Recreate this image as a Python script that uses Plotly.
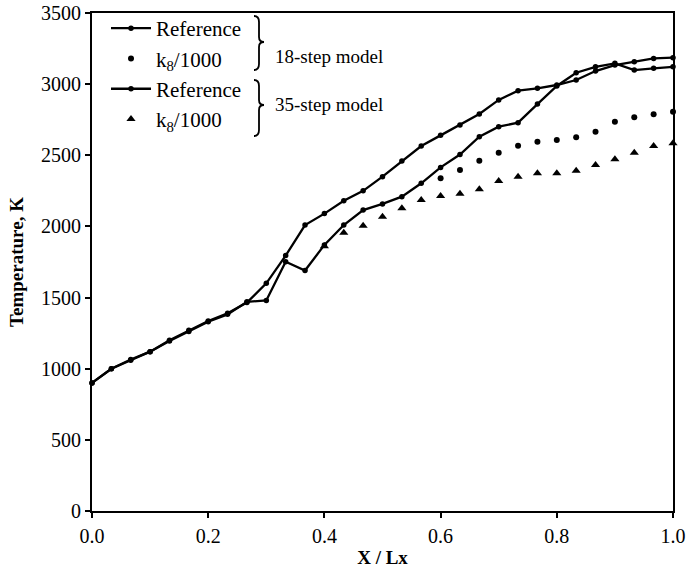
import plotly.graph_objects as go

# x positions: X/Lx = i/30
x_all = [i / 30 for i in range(31)]

# Reference curve A (ends high)
ref_a = [900, 1000, 1065, 1120, 1200, 1270, 1335, 1390, 1465, 1600,
         1795, 2010, 2090, 2180, 2250, 2350, 2460, 2565, 2640, 2713,
         2790, 2889, 2954, 2971, 2994, 3029, 3092, 3134, 3158, 3181, 3186]

# Reference curve B (lower in the middle)
ref_b = [900, 1000, 1060, 1120, 1195, 1262, 1330, 1382, 1470, 1480,
         1752, 1690, 1870, 2010, 2115, 2158, 2209, 2303, 2415, 2505,
         2631, 2701, 2729, 2860, 2987, 3080, 3122, 3146, 3099, 3111, 3122]

# k8/1000, 18-step model (dots), from X/Lx = 0.6
x_k8_18 = [i / 30 for i in range(18, 31)]
k8_18 = [2338, 2397, 2462, 2518, 2567, 2596, 2607, 2626, 2666, 2736, 2767, 2788, 2806]

# k8/1000, 35-step model (triangles), from X/Lx = 0.4
x_k8_35 = [i / 30 for i in range(12, 31)]
k8_35 = [1860, 1955, 2005, 2068, 2127, 2186, 2214, 2230, 2262, 2319,
         2350, 2373, 2373, 2392, 2432, 2472, 2518, 2565, 2584]

x_ticks = [0.0, 0.2, 0.4, 0.6, 0.8, 1.0]
x_tick_text = ["0.0", "0.2", "0.4", "0.6", "0.8", "1.0"]
y_ticks = [0, 500, 1000, 1500, 2000, 2500, 3000, 3500]

W, H = 692, 569
ML, MR, MT, MB = 92, 19, 13, 58
FONT = "Liberation Serif"

fig = go.Figure()
fig.add_trace(go.Scatter(x=x_all, y=ref_b, mode="lines+markers", name="Reference",
                         line=dict(color="black", width=2.3),
                         marker=dict(color="black", size=5.5), cliponaxis=False))
fig.add_trace(go.Scatter(x=x_k8_18, y=k8_18, mode="markers", name="k<sub>8</sub>/1000",
                         marker=dict(color="black", size=6, symbol="circle"), cliponaxis=False))
fig.add_trace(go.Scatter(x=x_all, y=ref_a, mode="lines+markers", name="Reference",
                         line=dict(color="black", width=2.3),
                         marker=dict(color="black", size=5.5), cliponaxis=False))
fig.add_trace(go.Scatter(x=x_k8_35, y=k8_35, mode="markers", name="k<sub>8</sub>/1000",
                         marker=dict(color="black", size=8, symbol="triangle-up"), cliponaxis=False))

pw = W - ML - MR
ph = H - MT - MB


def px(x):
    return (x - ML) / pw


def py(y):
    return 1 - (y - MT) / ph


def brace(x0, ytop, ybot, ytip):
    xm = x0 + 5
    pts = [
        f"M {px(x0)},{py(ytop)}",
        f"Q {px(xm)},{py(ytop)} {px(xm)},{py(ytop + 6)}",
        f"L {px(xm)},{py(ytip - 5)}",
        f"Q {px(xm)},{py(ytip)} {px(xm + 5)},{py(ytip)}",
        f"Q {px(xm)},{py(ytip)} {px(xm)},{py(ytip + 5)}",
        f"L {px(xm)},{py(ybot - 6)}",
        f"Q {px(xm)},{py(ybot)} {px(x0)},{py(ybot)}",
    ]
    return " ".join(pts)


shapes = [
    dict(type="path", xref="paper", yref="paper", path=brace(254, 16, 70, 42),
         line=dict(color="black", width=1.8)),
    dict(type="path", xref="paper", yref="paper", path=brace(254, 80, 136, 105),
         line=dict(color="black", width=1.8)),
]

annotations = [
    dict(x=px(273), y=py(57), xref="paper", yref="paper", text="18-step model",
         showarrow=False, xanchor="left", yanchor="middle",
         font=dict(family=FONT, size=19, color="black")),
    dict(x=px(273), y=py(104), xref="paper", yref="paper", text="35-step model",
         showarrow=False, xanchor="left", yanchor="middle",
         font=dict(family=FONT, size=19, color="black")),
]

fig.update_layout(
    width=W, height=H,
    margin=dict(l=ML, r=MR, t=MT, b=MB, autoexpand=False),
    paper_bgcolor="white", plot_bgcolor="white",
    font=dict(family=FONT, color="black"),
    showlegend=True,
    legend=dict(x=px(106), y=py(8), xanchor="left", yanchor="top",
                bgcolor="rgba(0,0,0,0)", font=dict(family=FONT, size=21, color="black"),
                tracegroupgap=0, itemwidth=40),
    shapes=shapes,
    annotations=annotations,
    xaxis=dict(range=[0, 1], tickvals=x_ticks, ticktext=x_tick_text,
               showgrid=False, zeroline=False, showline=True, linecolor="black",
               linewidth=2, mirror=True, ticks="outside", ticklen=5, tickwidth=1.5,
               tickcolor="black", ticklabelstandoff=1, ticklabeloverflow="allow",
               tickfont=dict(family=FONT, size=20, color="black"),
               title=dict(text="<b>X / Lx</b>", standoff=5,
                          font=dict(family=FONT, size=19, color="black"))),
    yaxis=dict(range=[0, 3500], tickvals=y_ticks,
               showgrid=False, zeroline=False, showline=True, linecolor="black",
               linewidth=2, mirror=True, ticks="outside", ticklen=5, tickwidth=1.5,
               tickcolor="black", ticklabeloverflow="allow",
               tickfont=dict(family=FONT, size=20, color="black"),
               title=dict(text="<b>Temperature, K</b>", standoff=12,
                          font=dict(family=FONT, size=19, color="black"))),
)

fig.write_html("out.html", config={"displayModeBar": False},
               post_script="document.body.style.margin='0';document.body.style.overflow='hidden';")
